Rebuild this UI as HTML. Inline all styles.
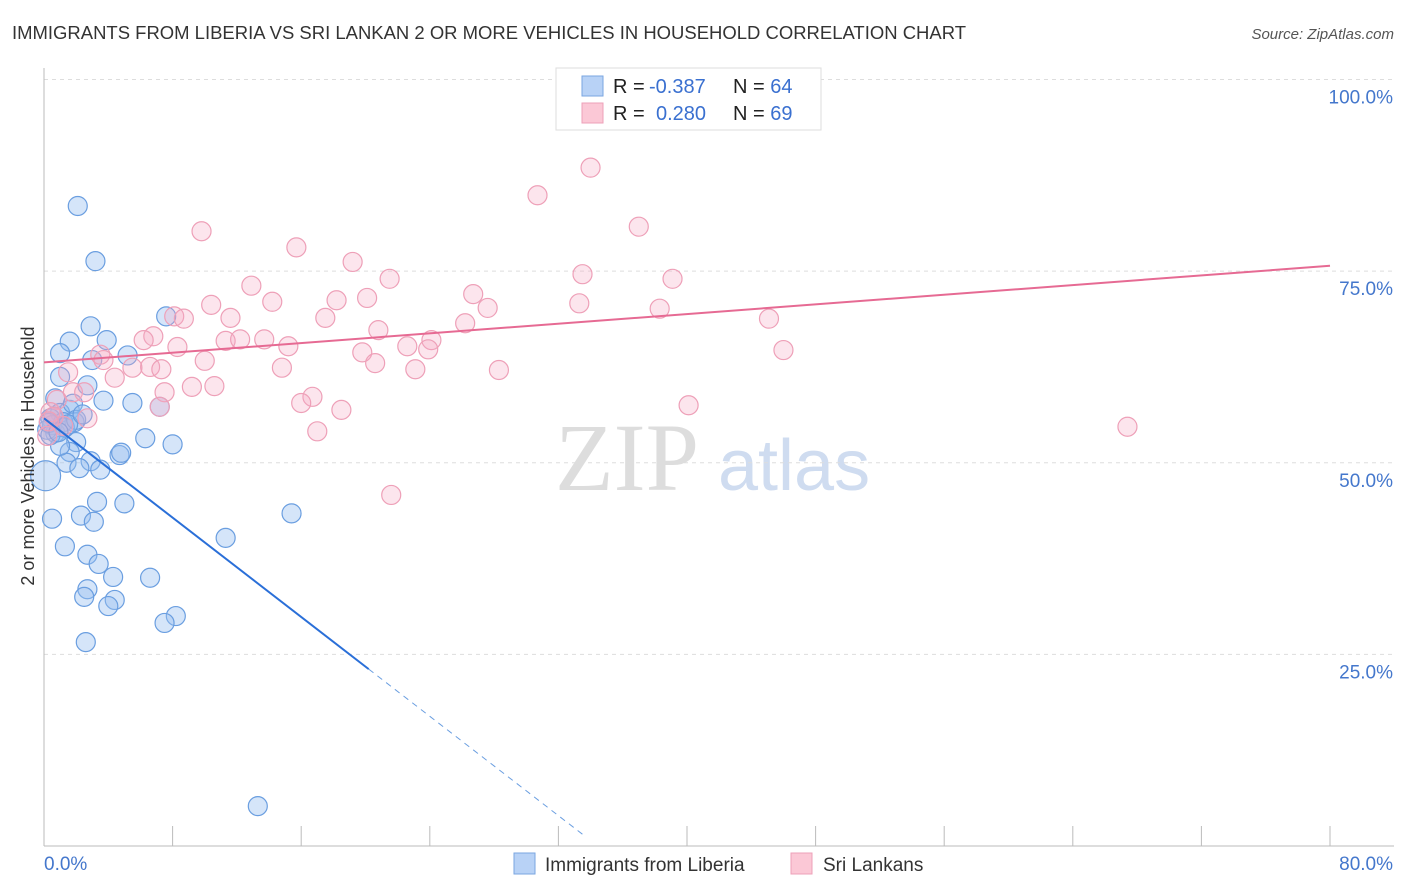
<!DOCTYPE html>
<html><head><meta charset="utf-8"><style>
body{margin:0;background:#fff;font-family:"Liberation Sans",sans-serif}
svg{display:block}
</style></head><body>
<svg id="chart" width="1406" height="892">
<text x="12" y="39" font-size="18" fill="#333" textLength="954" lengthAdjust="spacingAndGlyphs">IMMIGRANTS FROM LIBERIA VS SRI LANKAN 2 OR MORE VEHICLES IN HOUSEHOLD CORRELATION CHART</text>
<text x="1394" y="39" font-size="15" fill="#555" font-style="italic" text-anchor="end">Source: ZipAtlas.com</text>
<g>
<text x="555" y="490" font-size="96" font-family="Liberation Serif,serif" fill="#ddd">ZIP</text>
<text x="718" y="490" font-size="72" fill="#cfdcf0">atlas</text>
</g>
<g id="grid"></g><g id="axes"></g><g id="blue"></g><g id="pink"></g><g id="lines"></g>
<text transform="translate(34,456) rotate(-90)" font-size="18" fill="#333" text-anchor="middle">2 or more Vehicles in Household</text>
<text x="44" y="870" font-size="19" fill="#4477cc">0.0%</text>
<text x="1393" y="870" font-size="19" fill="#4477cc" text-anchor="end">80.0%</text>
<g>
<rect x="556" y="68" width="265" height="62" fill="#fff" stroke="#ddd"/>
<rect x="582" y="76" width="21" height="20" fill="#b8d2f6" stroke="#7aa6e0"/>
<rect x="582" y="103" width="21" height="20" fill="#fbc8d6" stroke="#eea0b8"/>
<text x="613" y="93" font-size="20" fill="#222">R = <tspan x="649" fill="#3a70d0">-0.387</tspan><tspan x="733">N = </tspan><tspan fill="#3a70d0">64</tspan></text>
<text x="613" y="120" font-size="20" fill="#222">R = <tspan x="656" fill="#3a70d0">0.280</tspan><tspan x="733">N = </tspan><tspan fill="#3a70d0">69</tspan></text>
</g>
<g>
<rect x="514" y="853" width="21" height="21" fill="#b8d2f6" stroke="#7aa6e0"/>
<text x="545" y="871" font-size="19" fill="#333">Immigrants from Liberia</text>
<rect x="791" y="853" width="21" height="21" fill="#fbc8d6" stroke="#eea0b8"/>
<text x="823" y="871" font-size="19" fill="#333">Sri Lankans</text>
</g>
</svg>
<script>
const yTicks=[100,75,50,25];
const yTickLabels=["100.0%","75.0%","50.0%","25.0%"];
const blueX=[2.1,3.2,7.6,2.9,1.6,3.9,1.0,5.2,3.0,1.0,2.7,3.7,5.5,0.7,1.6,1.0,0.4,0.5,1.9,0.7,6.3,8.0,2.0,1.6,4.7,2.9,1.4,2.2,3.5,3.3,5.0,15.4,0.5,2.3,3.1,11.3,1.3,2.7,3.4,4.3,6.6,2.7,2.5,4.4,4.0,8.2,7.5,2.6,13.3,7.2,1.2,0.2,1.0,4.8,1.8,0.3,0.6,1.3,2.0,0.4,1.5,0.9,2.4];
const blueY=[83.5,76.3,69.1,67.8,65.8,66.0,64.3,64.0,63.4,61.2,60.1,58.1,57.8,58.4,56.9,56.5,55.8,54.9,55.3,53.9,53.2,52.4,52.7,51.4,51.0,50.2,50.0,49.3,49.1,44.9,44.7,43.4,42.7,43.1,42.3,40.2,39.1,38.0,36.8,35.1,35.0,33.5,32.5,32.1,31.3,30.0,29.1,26.6,5.2,57.3,55.3,54.3,52.2,51.3,57.7,55.2,56.0,54.6,55.6,53.6,55.0,54.0,56.3];
const bigX=[0.1], bigY=[48.3];
const pinkX=[34.0,30.7,37.0,9.8,15.7,19.2,33.5,39.1,21.5,12.9,26.7,18.2,20.1,14.2,10.4,33.3,27.6,38.3,17.5,11.6,8.1,8.7,45.1,26.2,20.8,6.8,6.2,11.3,12.2,13.7,24.1,8.3,15.2,22.6,23.9,19.8,46.0,3.5,3.7,10.0,20.6,6.6,7.3,5.5,14.8,23.1,28.3,1.5,4.4,9.2,10.6,7.5,1.8,2.5,0.8,16.7,16.0,40.1,7.2,18.5,0.4,2.7,67.4,17.0,0.2,21.6,0.6,1.2,0.3];
const pinkY=[88.5,84.9,80.8,80.2,78.1,76.2,74.6,74.0,74.0,73.1,72.0,71.2,71.5,71.0,70.6,70.8,70.2,70.1,68.9,68.9,69.1,68.8,68.8,68.2,67.3,66.5,66.0,65.9,66.1,66.1,66.0,65.1,65.2,65.2,64.8,64.4,64.7,64.1,63.4,63.3,63.0,62.5,62.2,62.4,62.4,62.2,62.1,61.8,61.1,59.9,60.0,59.2,59.2,59.2,58.2,58.6,57.8,57.5,57.3,56.9,56.6,55.8,54.7,54.1,53.5,45.8,56.0,54.8,55.4];
const blueTrend=[55.8,-1.62], blueSolidEnd=20.2, blueDashEnd=33.6;
const pinkTrend=[63.1,0.1575];
const NS="http://www.w3.org/2000/svg";
const X=v=>44+v*1286/80, Y=v=>846-v*7.665;
function mk(p,t,a){const e=document.createElementNS(NS,t);for(const k in a)e.setAttribute(k,a[k]);document.getElementById(p).appendChild(e);return e;}
yTicks.forEach((t,i)=>{
 let l=mk('grid','line',{x1:44,x2:1394,y1:Y(t),y2:Y(t),stroke:'#ddd','stroke-dasharray':'4,4'});
 
 
 let tx=mk('grid','text',{x:1393,y:Y(t)+24,'font-size':19,fill:'#4477cc','text-anchor':'end'});
 tx.textContent=yTickLabels[i];
 
 
});
let ax=mk('axes','line',{x1:44,x2:44,y1:68,y2:846,stroke:'#bbb'});


let bx=mk('axes','line',{x1:44,x2:1394,y1:846,y2:846,stroke:'#bbb'});


for(let i=0;i<=10;i++){let t=mk('axes','line',{x1:X(i*8),x2:X(i*8),y1:826,y2:846,stroke:'#bbb'});
 
 }
blueX.forEach((v,i)=>{let c=mk('blue','circle',{cx:X(v),cy:Y(blueY[i]),r:9.5,fill:'rgba(150,190,240,0.4)',stroke:'#6a9ee0','stroke-width':1.2});
 
 });
bigX.forEach((v,i)=>{let c=mk('blue','circle',{cx:X(v),cy:Y(bigY[i]),r:15,fill:'rgba(150,190,240,0.4)',stroke:'#6a9ee0','stroke-width':1.2});
 
 });
pinkX.forEach((v,i)=>{let c=mk('pink','circle',{cx:X(v),cy:Y(pinkY[i]),r:9.5,fill:'rgba(245,170,195,0.3)',stroke:'#eea0b8','stroke-width':1.2});
 
 });
const bt=x=>blueTrend[0]+blueTrend[1]*x, pt=x=>pinkTrend[0]+pinkTrend[1]*x;
let l1=mk('lines','line',{x1:X(0),y1:Y(bt(0)),x2:X(blueSolidEnd),y2:Y(bt(blueSolidEnd)),stroke:'#2a6fd8','stroke-width':2});


let l2=mk('lines','line',{x1:X(blueSolidEnd),y1:Y(bt(blueSolidEnd)),x2:X(blueDashEnd),y2:Y(bt(blueDashEnd)),stroke:'#6a9ee0','stroke-width':1,'stroke-dasharray':'6,5'});


let l3=mk('lines','line',{x1:X(0),y1:Y(pt(0)),x2:X(80),y2:Y(pt(80)),stroke:'#e66a93','stroke-width':2});


</script>
</body></html>
